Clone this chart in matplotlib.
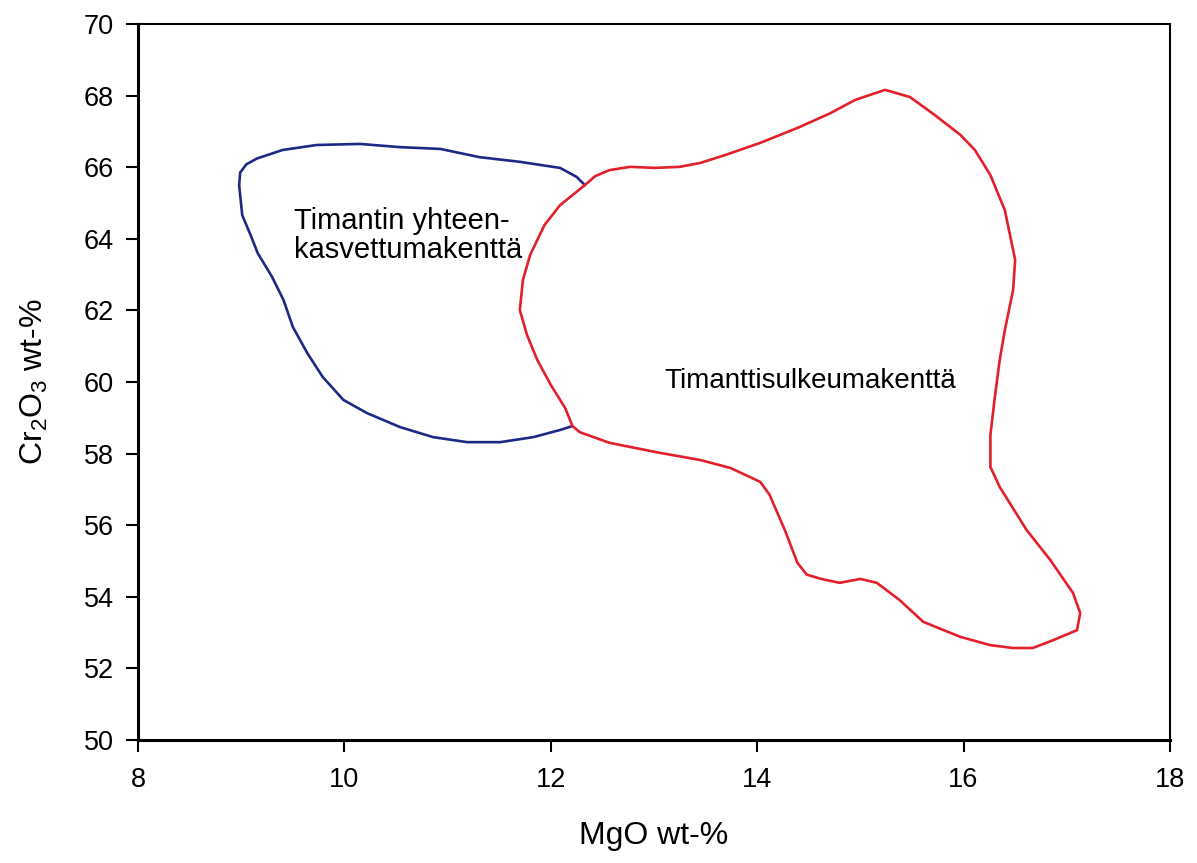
import matplotlib.pyplot as plt

plt.rcParams["font.family"] = ["Liberation Sans", "DejaVu Sans"]
plt.rcParams["mathtext.default"] = "regular"

# Diamond intergrowth field (blue outline), MgO vs Cr2O3 in wt-%
intergrowth_mgo = [12.33, 12.25, 12.09, 11.70, 11.31, 10.93, 10.54, 10.15, 9.73, 9.40,
                   9.15, 9.05, 8.99, 8.98, 9.01, 9.09, 9.16, 9.30, 9.41, 9.50,
                   9.64, 9.79, 9.99, 10.22, 10.54, 10.86, 11.19, 11.51, 11.83, 12.09,
                   12.21]
intergrowth_cr2o3 = [65.50, 65.73, 65.98, 66.15, 66.28, 66.51, 66.56, 66.65, 66.62, 66.48,
                     66.24, 66.08, 65.85, 65.50, 64.66, 64.11, 63.60, 62.93, 62.29, 61.54,
                     60.81, 60.14, 59.50, 59.13, 58.74, 58.46, 58.32, 58.32, 58.46, 58.66,
                     58.77]

# Diamond inclusion field (red outline)
inclusion_mgo = [12.33, 12.43, 12.57, 12.77, 13.01, 13.25, 13.45, 13.69, 14.03, 14.41,
                 14.71, 14.95, 15.24, 15.48, 15.72, 15.97, 16.11, 16.26, 16.40, 16.50,
                 16.48, 16.40, 16.35, 16.30, 16.26, 16.26, 16.35, 16.61, 16.84, 17.06,
                 17.13, 17.10, 16.87, 16.67, 16.48, 16.26, 15.97, 15.61, 15.38, 15.16,
                 15.00, 14.80, 14.62, 14.48, 14.39, 14.27, 14.12, 14.03, 13.74, 13.45,
                 13.06, 12.57, 12.28, 12.21, 12.14, 12.00, 11.87, 11.77, 11.70, 11.73,
                 11.80, 11.94, 12.09, 12.33]
inclusion_cr2o3 = [65.50, 65.75, 65.92, 66.01, 65.98, 66.01, 66.12, 66.34, 66.68, 67.12,
                   67.51, 67.88, 68.16, 67.96, 67.46, 66.90, 66.48, 65.78, 64.80, 63.41,
                   62.57, 61.45, 60.61, 59.50, 58.52, 57.63, 57.07, 55.87, 55.03, 54.11,
                   53.55, 53.07, 52.79, 52.57, 52.57, 52.65, 52.88, 53.30, 53.91, 54.39,
                   54.50, 54.39, 54.50, 54.62, 54.95, 55.85, 56.85, 57.21, 57.60, 57.82,
                   58.02, 58.30, 58.60, 58.77, 59.27, 59.92, 60.61, 61.31, 62.01, 62.85,
                   63.55, 64.39, 64.94, 65.50]

x_ticks = [8, 10, 12, 14, 16, 18]
y_ticks = [50, 52, 54, 56, 58, 60, 62, 64, 66, 68, 70]

fig = plt.figure(figsize=(11.97, 8.63), dpi=100)
ax = fig.add_axes([0.1153, 0.1425, 0.8621, 0.8297])

ax.plot(intergrowth_mgo, intergrowth_cr2o3, color="#1c2a86", lw=1.9,
        solid_joinstyle="round", solid_capstyle="round")
ax.plot(inclusion_mgo, inclusion_cr2o3, color="#e2202c", lw=1.9,
        solid_joinstyle="round", solid_capstyle="round")

ax.text(9.51, 64.88, "Timantin yhteen-\nkasvettumakenttä", fontsize=21,
        ha="left", va="top", linespacing=1.05)
ax.text(14.51, 60.03, "Timanttisulkeumakenttä", fontsize=20, ha="center", va="center")

ax.set_xlim(8, 18)
ax.set_ylim(50, 70)
ax.set_xticks(x_ticks)
ax.set_yticks(y_ticks)
ax.tick_params(direction="out", length=8.5, width=1.5, labelsize=19.5)
ax.tick_params(axis="x", pad=11)
ax.tick_params(axis="y", pad=9)

for side in ["left", "bottom"]:
    ax.spines[side].set_linewidth(2.2)
for side in ["top", "right"]:
    ax.spines[side].set_linewidth(1.5)

ax.set_xlabel("MgO wt-%", fontsize=23, labelpad=20)
ax.set_ylabel("Cr$_2$O$_3$ wt-%", fontsize=23, labelpad=24)

fig.savefig("out.png", dpi=100)
